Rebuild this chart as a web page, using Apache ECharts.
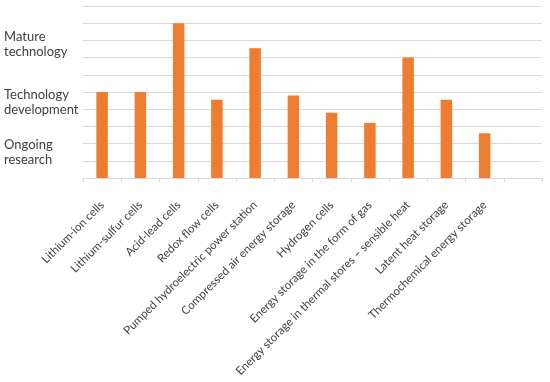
<!DOCTYPE html>
<html><head><meta charset="utf-8">
<script src="https://cdn.jsdelivr.net/npm/echarts@6/dist/echarts.min.js"></script>
<style>html,body{margin:0;padding:0;background:#fff}#c{width:550px;height:382px}</style>
</head><body><div id="c"></div>
<script>
var categories = ["Lithium-ion cells","Lithium-sulfur cells","Acid-lead cells","Redox flow cells","Pumped hydroelectric power station","Compressed air energy storage","Hydrogen cells","Energy storage in the form of gas","Energy storage in thermal stores \u2013 sensible heat","Latent heat storage","Thermochemical energy storage",""];
var values = [5.0, 5.0, 9.0, 4.55, 7.55, 4.8, 3.8, 3.2, 7.0, 4.55, 2.6, null];
var levelLabels = ["Mature\ntechnology","Technology\ndevelopment","Ongoing\nresearch"];
var levelTops = [29, 87, 137];

var chart = echarts.init(document.getElementById('c'));
var font = "Lato, 'Open Sans', sans-serif";
chart.setOption({
  animation: false,
  grid: {left: 83, right: 8, top: 6, bottom: 204},
  xAxis: {
    type: 'category', data: categories,
    axisLine: {lineStyle: {color: '#d9d9d9'}},
    axisTick: {show: true, length: 4, lineStyle: {color: '#d9d9d9'}},
    axisLabel: {rotate: 45, interval: 0, color: '#404040', fontSize: 11.5, fontFamily: font, margin: 25}
  },
  yAxis: {
    type: 'value', min: 0, max: 10, interval: 1,
    axisLabel: {show: false}, axisLine: {show: false}, axisTick: {show: false},
    splitLine: {lineStyle: {color: '#d9d9d9', width: 1}}
  },
  series: [{type: 'bar', data: values, barWidth: 11.5, itemStyle: {color: '#ED7D31'}}],
  graphic: levelLabels.map(function (t, i) {
    return {type: 'text', left: 4, top: levelTops[i],
      style: {text: t, fill: '#404040', font: '13px ' + font, lineHeight: 15}};
  })
});
</script></body></html>
